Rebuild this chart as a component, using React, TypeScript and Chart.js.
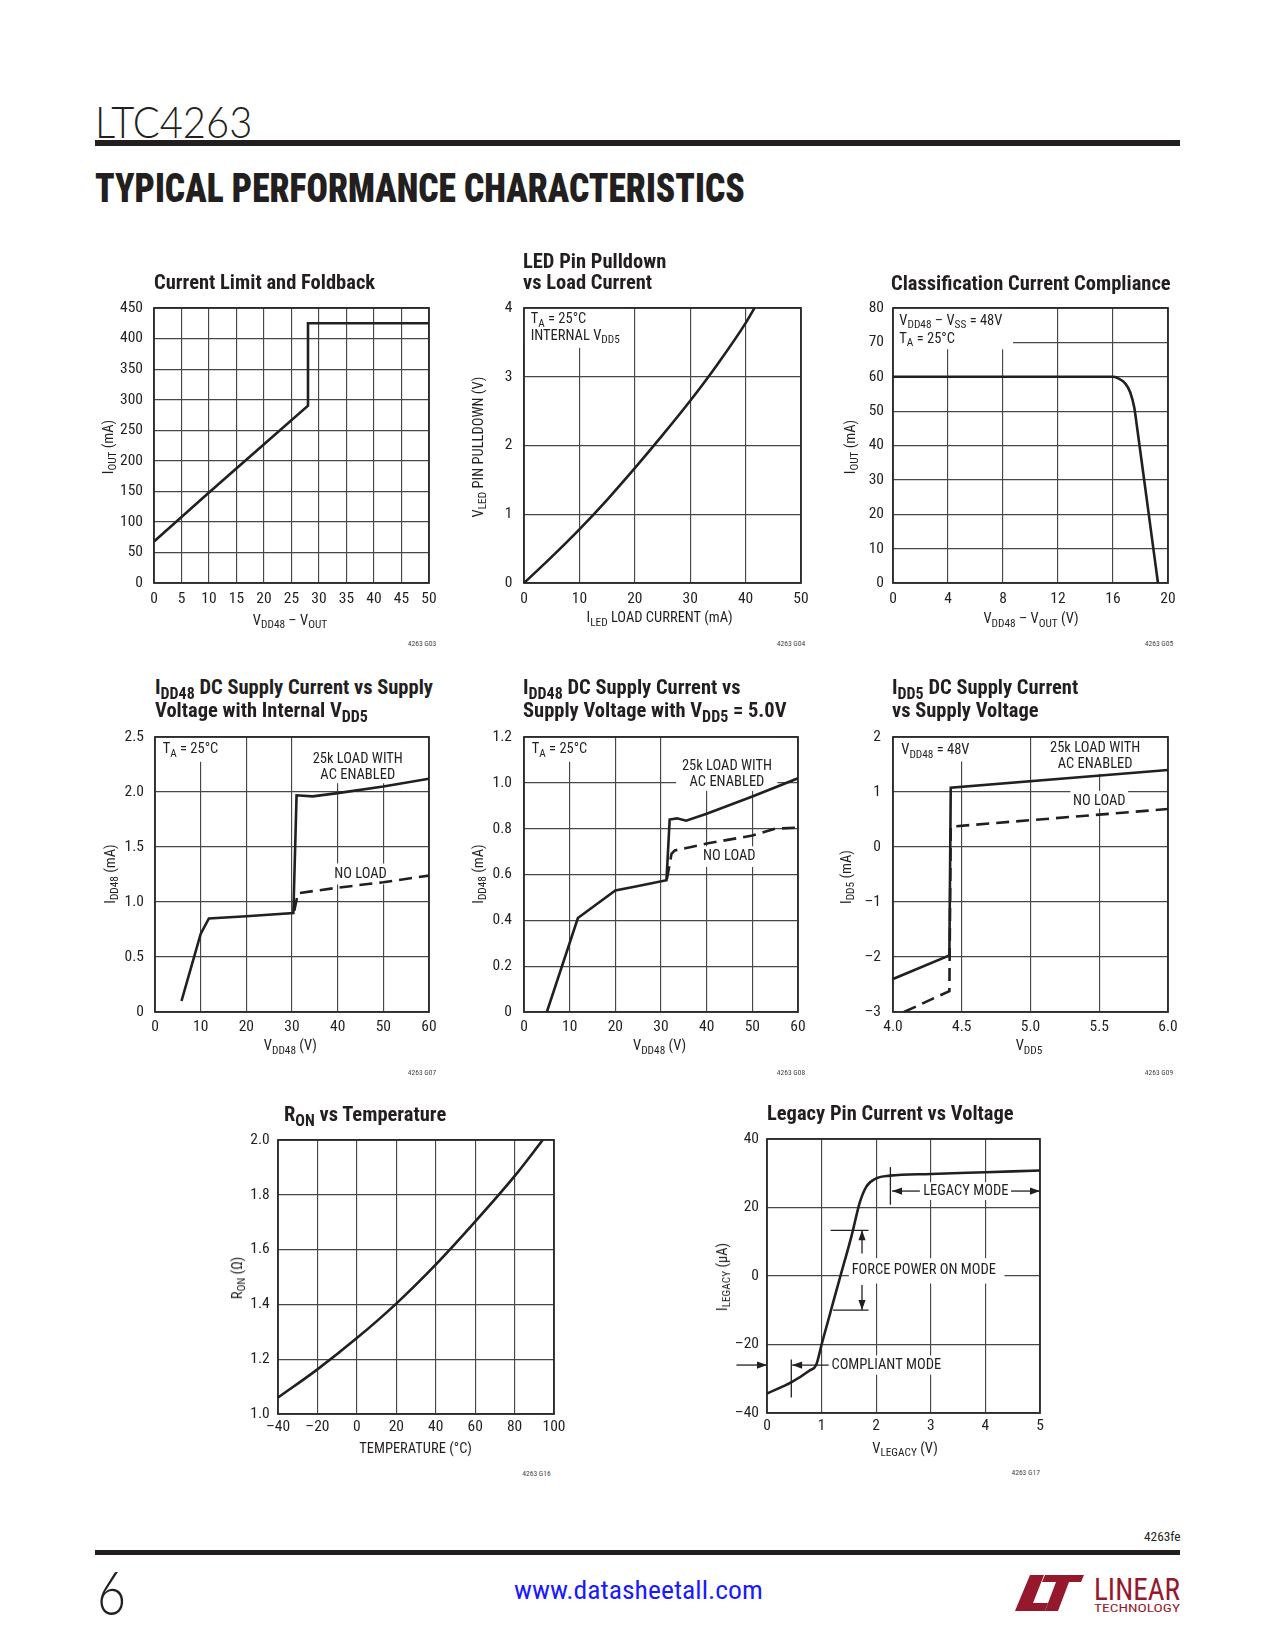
import React, { useEffect, useLayoutEffect, useRef, useState } from 'react';
import { Chart, registerables } from 'chart.js';

Chart.register(...registerables);

const FONT = "'Liberation Sans Narrow', 'Arial Narrow', 'Roboto Condensed', 'DejaVu Sans Condensed', 'Liberation Sans', sans-serif";
const LIGHT = "'Lato', 'Open Sans', 'Noto Sans', sans-serif";
const INK = '#231f20';
const RED = '#96182c';
Chart.defaults.font.family = FONT;

// ---------------- data ----------------
// Current Limit and Foldback
const limitX = [0, 10, 20, 28, 28, 50];
const limitY = [68, 148, 227, 290, 425, 425];
const limitXTicks = [0, 5, 10, 15, 20, 25, 30, 35, 40, 45, 50];
const limitYTicks = [0, 50, 100, 150, 200, 250, 300, 350, 400, 450];

// LED Pin Pulldown vs Load Current
const ledX = [0, 5, 10, 15, 20, 25, 30, 35, 40, 41.6];
const ledY = [0, 0.38, 0.78, 1.21, 1.67, 2.15, 2.65, 3.19, 3.78, 4.0];
const ledXTicks = [0, 10, 20, 30, 40, 50];
const ledYTicks = [0, 1, 2, 3, 4];

// Classification Current Compliance
const classX = [0, 16, 16.3, 16.9, 17.25, 17.55, 17.75, 18.5, 19.27];
const classY = [60, 60, 59.7, 58, 55.5, 51, 45.3, 23.0, 0];
const classXTicks = [0, 4, 8, 12, 16, 20];
const classYTicks = [0, 10, 20, 30, 40, 50, 60, 70, 80];

// IDD48 vs supply, internal VDD5
const intLoadX = [5.8, 8, 10, 11.8, 20, 30.3, 31, 34.5, 40, 50, 60];
const intLoadY = [0.1, 0.42, 0.71, 0.85, 0.87, 0.9, 1.97, 1.96, 1.99, 2.05, 2.12];
const intNoLoadX = [30.5, 31.3, 40, 50, 60];
const intNoLoadY = [0.92, 1.08, 1.13, 1.18, 1.24];
const intXTicks = [0, 10, 20, 30, 40, 50, 60];
const intYTicks = [0, 0.5, 1.0, 1.5, 2.0, 2.5];
const intYLabels = ['0', '0.5', '1.0', '1.5', '2.0', '2.5'];

// IDD48 vs supply, VDD5 = 5.0V
const extLoadX = [5, 11.8, 20, 25, 31.2, 31.9, 33.5, 35.5, 40, 50, 60];
const extLoadY = [0, 0.41, 0.53, 0.55, 0.575, 0.84, 0.845, 0.835, 0.865, 0.94, 1.02];
const extNoLoadX = [31.3, 32.3, 33, 40, 50, 55, 60];
const extNoLoadY = [0.58, 0.69, 0.705, 0.735, 0.77, 0.8, 0.805];
const extXTicks = [0, 10, 20, 30, 40, 50, 60];
const extYTicks = [0, 0.2, 0.4, 0.6, 0.8, 1.0, 1.2];
const extYLabels = ['0', '0.2', '0.4', '0.6', '0.8', '1.0', '1.2'];

// IDD5 vs supply voltage
const idd5LoadX = [4.0, 4.41, 4.42, 6.0];
const idd5LoadY = [-2.4, -1.97, 1.08, 1.4];
const idd5NoLoadX = [4.08, 4.41, 4.42, 6.0];
const idd5NoLoadY = [-3.0, -2.62, 0.37, 0.69];
const idd5XTicks = [4.0, 4.5, 5.0, 5.5, 6.0];
const idd5XLabels = ['4.0', '4.5', '5.0', '5.5', '6.0'];
const idd5YTicks = [-3, -2, -1, 0, 1, 2];
const idd5YLabels = ['–3', '–2', '–1', '0', '1', '2'];

// RON vs temperature
const ronX = [-40, -20, 0, 20, 40, 60, 80, 94.3];
const ronY = [1.06, 1.163, 1.277, 1.403, 1.545, 1.702, 1.868, 2.0];
const ronXTicks = [-40, -20, 0, 20, 40, 60, 80, 100];
const ronXLabels = ['–40', '–20', '0', '20', '40', '60', '80', '100'];
const ronYTicks = [1.0, 1.2, 1.4, 1.6, 1.8, 2.0];
const ronYLabels = ['1.0', '1.2', '1.4', '1.6', '1.8', '2.0'];

// Legacy pin current vs voltage
const legacyX = [0, 0.45, 0.78, 0.9, 1.0, 1.345, 1.55, 1.7, 1.82, 2.0, 2.25, 3, 4, 5];
const legacyY = [-34.3, -31, -27.6, -26, -20, 0, 11.8, 21.5, 26.1, 28.5, 29.3, 29.8, 30.3, 30.8];
const legacyXTicks = [0, 1, 2, 3, 4, 5];
const legacyYTicks = [-40, -20, 0, 20, 40];
const legacyYLabels = ['–40', '–20', '0', '20', '40'];

const str = (a: number[]) => a.map((v) => String(v));

// ---------------- chart machinery ----------------
type Seg = [string, number?];
type Note =
  | { kind: 'box'; x0: number; x1: number; y0: number; y1: number }
  | { kind: 'text'; x: number; y: number; segs: Seg[]; align?: 'left' | 'center' }
  | { kind: 'line'; x0: number; y0: number; x1: number; y1: number }
  | { kind: 'arrow'; x0: number; y0: number; x1: number; y1: number };

interface Series { xs: number[]; ys: number[]; dashed?: boolean; smooth?: boolean }
interface Axis { ticks: number[]; labels: string[]; pad: number }
interface Spec { l: number; t: number; w: number; h: number; x: Axis; y: Axis; series: Series[]; notes?: Note[] }

const PAD_L = 72, PAD_T = 26, PAD_R = 26, PAD_B = 36;
const NOTE_FS = 14.5;
const TICK_FS = 15.5;

function drawRich(ctx: CanvasRenderingContext2D, segs: Seg[], x: number, y: number, align: string) {
  const main = `${NOTE_FS}px ${FONT}`;
  const sub = `${NOTE_FS * 0.78}px ${FONT}`;
  let w = 0;
  for (const [t, s] of segs) { ctx.font = s ? sub : main; w += ctx.measureText(t).width; }
  let cx = align === 'center' ? x - w / 2 : x;
  ctx.textBaseline = 'middle';
  ctx.textAlign = 'left';
  ctx.fillStyle = INK;
  for (const [t, s] of segs) {
    ctx.font = s ? sub : main;
    ctx.fillText(t, cx, s ? y + NOTE_FS * 0.3 : y);
    cx += ctx.measureText(t).width;
  }
}

function makeNotes(notes: Note[]) {
  return {
    id: 'notes',
    beforeDatasetsDraw(chart: any) {
      const { ctx, chartArea: a, scales } = chart;
      const sx = scales.x, sy = scales.y;
      ctx.save();
      ctx.fillStyle = '#ffffff';
      for (const n of notes) {
        if (n.kind !== 'box') continue;
        const px0 = sx.getPixelForValue(n.x0), px1 = sx.getPixelForValue(n.x1);
        const py0 = sy.getPixelForValue(n.y0), py1 = sy.getPixelForValue(n.y1);
        ctx.fillRect(Math.min(px0, px1), Math.min(py0, py1), Math.abs(px1 - px0), Math.abs(py1 - py0));
      }
      ctx.strokeStyle = '#2b2b2b';
      ctx.lineWidth = 1.8;
      ctx.strokeRect(a.left, a.top, a.right - a.left, a.bottom - a.top);
      ctx.restore();
    },
    afterDatasetsDraw(chart: any) {
      const { ctx, scales } = chart;
      const sx = scales.x, sy = scales.y;
      ctx.save();
      for (const n of notes) {
        if (n.kind === 'text') {
          drawRich(ctx, n.segs, sx.getPixelForValue(n.x), sy.getPixelForValue(n.y), n.align || 'left');
        } else if (n.kind === 'line' || n.kind === 'arrow') {
          const x0 = sx.getPixelForValue(n.x0), y0 = sy.getPixelForValue(n.y0);
          const x1 = sx.getPixelForValue(n.x1), y1 = sy.getPixelForValue(n.y1);
          ctx.strokeStyle = INK;
          ctx.fillStyle = INK;
          ctx.lineWidth = 1.3;
          ctx.beginPath();
          ctx.moveTo(x0, y0);
          ctx.lineTo(x1, y1);
          ctx.stroke();
          if (n.kind === 'arrow') {
            const ang = Math.atan2(y1 - y0, x1 - x0);
            const L = 10, Hw = 3.6;
            const bx = x1 - L * Math.cos(ang), by = y1 - L * Math.sin(ang);
            ctx.beginPath();
            ctx.moveTo(x1, y1);
            ctx.lineTo(bx - Hw * Math.sin(ang), by + Hw * Math.cos(ang));
            ctx.lineTo(bx + Hw * Math.sin(ang), by - Hw * Math.cos(ang));
            ctx.closePath();
            ctx.fill();
          }
        }
      }
      ctx.restore();
    },
  };
}

function axisOpts(ax: Axis, dir: 'x' | 'y') {
  return {
    type: 'linear',
    position: dir === 'x' ? 'bottom' : 'left',
    min: ax.ticks[0],
    max: ax.ticks[ax.ticks.length - 1],
    afterBuildTicks: (s: any) => { s.ticks = ax.ticks.map((value) => ({ value })); },
    afterFit: (s: any) => { if (dir === 'x') s.height = PAD_B; else s.width = PAD_L; },
    grid: { color: '#474747', lineWidth: 1.15, drawTicks: false },
    border: { display: false },
    ticks: {
      autoSkip: false,
      maxRotation: 0,
      padding: ax.pad,
      color: INK,
      font: { family: FONT, size: TICK_FS },
      callback: (_v: any, i: number) => ax.labels[i],
    },
  };
}

function PerfChart({ spec }: { spec: Spec }) {
  const ref = useRef<HTMLCanvasElement>(null);
  const W = spec.w + PAD_L + PAD_R;
  const H = spec.h + PAD_T + PAD_B;
  useEffect(() => {
    const chart = new Chart(ref.current as HTMLCanvasElement, {
      type: 'line',
      data: {
        datasets: spec.series.map((s) => ({
          data: s.xs.map((x, i) => ({ x, y: s.ys[i] })),
          borderColor: INK,
          borderWidth: 2.6,
          borderDash: s.dashed ? [13, 7] : [],
          pointRadius: 0,
          fill: false,
          tension: 0,
          cubicInterpolationMode: s.smooth ? 'monotone' : 'default',
        })),
      },
      options: {
        animation: false,
        responsive: false,
        events: [],
        layout: { padding: { left: 0, top: PAD_T, right: PAD_R, bottom: 0 } },
        plugins: { legend: { display: false }, tooltip: { enabled: false }, title: { display: false } },
        scales: { x: axisOpts(spec.x, 'x'), y: axisOpts(spec.y, 'y') },
      } as any,
      plugins: [makeNotes(spec.notes || []) as any],
    } as any);
    return () => chart.destroy();
  }, []);
  return (
    <canvas
      ref={ref}
      width={W}
      height={H}
      style={{ position: 'absolute', left: spec.l - PAD_L, top: spec.t - PAD_T, width: W, height: H }}
    />
  );
}

// ---------------- chart specs ----------------
const TA: Seg[] = [['T'], ['A', 1], [' = 25°C']];

const specs: Spec[] = [
  {
    l: 154, t: 308, w: 275, h: 275,
    x: { ticks: limitXTicks, labels: str(limitXTicks), pad: 6.7 },
    y: { ticks: limitYTicks, labels: str(limitYTicks), pad: 11 },
    series: [{ xs: limitX, ys: limitY }],
  },
  {
    l: 524, t: 308, w: 277, h: 275,
    x: { ticks: ledXTicks, labels: str(ledXTicks), pad: 6.7 },
    y: { ticks: ledYTicks, labels: str(ledYTicks), pad: 11.5 },
    series: [{ xs: ledX, ys: ledY, smooth: true }],
    notes: [
      { kind: 'box', x0: 0, x1: 18.2, y0: 3.42, y1: 4 },
      { kind: 'text', x: 1.2, y: 3.83, segs: TA },
      { kind: 'text', x: 1.2, y: 3.59, segs: [['INTERNAL V'], ['DD5', 1]] },
    ],
  },
  {
    l: 893, t: 308, w: 275, h: 275,
    x: { ticks: classXTicks, labels: str(classXTicks), pad: 6.7 },
    y: { ticks: classYTicks, labels: str(classYTicks), pad: 9 },
    series: [{ xs: classX, ys: classY, smooth: true }],
    notes: [
      { kind: 'box', x0: 0, x1: 8.73, y0: 68, y1: 80 },
      { kind: 'text', x: 0.46, y: 76.2, segs: [['V'], ['DD48', 1], [' – V'], ['SS', 1], [' = 48V']] },
      { kind: 'text', x: 0.46, y: 70.9, segs: TA },
    ],
  },
  {
    l: 155, t: 737, w: 274, h: 275,
    x: { ticks: intXTicks, labels: str(intXTicks), pad: 6 },
    y: { ticks: intYTicks, labels: intYLabels, pad: 11 },
    series: [{ xs: intLoadX, ys: intLoadY }, { xs: intNoLoadX, ys: intNoLoadY, dashed: true }],
    notes: [
      { kind: 'box', x0: 0, x1: 14.65, y0: 2.275, y1: 2.5 },
      { kind: 'text', x: 1.68, y: 2.384, segs: TA },
      { kind: 'box', x0: 34, x1: 54.8, y0: 2.08, y1: 2.5 },
      { kind: 'text', x: 44.4, y: 2.3, segs: [['25k LOAD WITH']], align: 'center' },
      { kind: 'text', x: 44.4, y: 2.147, segs: [['AC ENABLED']], align: 'center' },
      { kind: 'box', x0: 38.6, x1: 51.4, y0: 1.16, y1: 1.35 },
      { kind: 'text', x: 45, y: 1.255, segs: [['NO LOAD']], align: 'center' },
    ],
  },
  {
    l: 524, t: 737, w: 274, h: 275,
    x: { ticks: extXTicks, labels: str(extXTicks), pad: 6 },
    y: { ticks: extYTicks, labels: extYLabels, pad: 12 },
    series: [{ xs: extLoadX, ys: extLoadY }, { xs: extNoLoadX, ys: extNoLoadY, dashed: true }],
    notes: [
      { kind: 'box', x0: 0, x1: 14.5, y0: 1.092, y1: 1.2 },
      { kind: 'text', x: 1.69, y: 1.144, segs: TA },
      { kind: 'box', x0: 33.3, x1: 55.5, y0: 0.965, y1: 1.2 },
      { kind: 'text', x: 44.45, y: 1.071, segs: [['25k LOAD WITH']], align: 'center' },
      { kind: 'text', x: 44.45, y: 1.0, segs: [['AC ENABLED']], align: 'center' },
      { kind: 'box', x0: 39, x1: 51, y0: 0.633, y1: 0.723 },
      { kind: 'text', x: 44.95, y: 0.678, segs: [['NO LOAD']], align: 'center' },
    ],
  },
  {
    l: 893, t: 737, w: 275, h: 275,
    x: { ticks: idd5XTicks, labels: idd5XLabels, pad: 6 },
    y: { ticks: idd5YTicks, labels: idd5YLabels, pad: 12 },
    series: [{ xs: idd5LoadX, ys: idd5LoadY }, { xs: idd5NoLoadX, ys: idd5NoLoadY, dashed: true }],
    notes: [
      { kind: 'box', x0: 4, x1: 4.6, y0: 1.556, y1: 2 },
      { kind: 'text', x: 4.06, y: 1.75, segs: [['V'], ['DD48', 1], [' = 48V']] },
      { kind: 'box', x0: 5.12, x1: 5.82, y0: 1.33, y1: 2 },
      { kind: 'text', x: 5.47, y: 1.8, segs: [['25k LOAD WITH']], align: 'center' },
      { kind: 'text', x: 5.47, y: 1.495, segs: [['AC ENABLED']], align: 'center' },
      { kind: 'box', x0: 5.29, x1: 5.71, y0: 0.7, y1: 1.02 },
      { kind: 'text', x: 5.5, y: 0.826, segs: [['NO LOAD']], align: 'center' },
    ],
  },
  {
    l: 278, t: 1140, w: 276, h: 274,
    x: { ticks: ronXTicks, labels: ronXLabels, pad: 3.8 },
    y: { ticks: ronYTicks, labels: ronYLabels, pad: 8.3 },
    series: [{ xs: ronX, ys: ronY, smooth: true }],
  },
  {
    l: 767, t: 1139, w: 273, h: 274,
    x: { ticks: legacyXTicks, labels: str(legacyXTicks), pad: 3.8 },
    y: { ticks: legacyYTicks, labels: legacyYLabels, pad: 8 },
    series: [{ xs: legacyX, ys: legacyY, smooth: true }],
    notes: [
      { kind: 'box', x0: 1.5, x1: 4.35, y0: -2.2, y1: 5.2 },
      { kind: 'text', x: 1.55, y: 1.55, segs: [['FORCE POWER ON MODE']] },
      { kind: 'line', x0: 1.165, y0: 13.35, x1: 1.86, y1: 13.35 },
      { kind: 'line', x0: 1.21, y0: -9.94, x1: 1.86, y1: -9.94 },
      { kind: 'arrow', x0: 1.74, y0: 6.6, x1: 1.74, y1: 13.35 },
      { kind: 'arrow', x0: 1.74, y0: -2.6, x1: 1.74, y1: -9.94 },
      { kind: 'line', x0: 2.26, y0: 20.8, x1: 2.26, y1: 31.8 },
      { kind: 'box', x0: 2.8, x1: 4.46, y0: 22.2, y1: 27.4 },
      { kind: 'arrow', x0: 2.8, y0: 24.8, x1: 2.29, y1: 24.8 },
      { kind: 'text', x: 2.86, y: 24.8, segs: [['LEGACY MODE']] },
      { kind: 'arrow', x0: 4.47, y0: 24.8, x1: 5.0, y1: 24.8 },
      { kind: 'line', x0: 0.445, y0: -24.4, x1: 0.445, y1: -35.5 },
      { kind: 'box', x0: 1.15, x1: 3.27, y0: -28.8, y1: -23.2 },
      { kind: 'arrow', x0: 1.13, y0: -26, x1: 0.46, y1: -26 },
      { kind: 'arrow', x0: -0.56, y0: -26, x1: 0, y1: -26 },
      { kind: 'text', x: 1.18, y: -26, segs: [['COMPLIANT MODE']] },
    ],
  },
];

// ---------------- HTML text helpers ----------------
const Sub = ({ children }: { children: React.ReactNode }) => (
  <span style={{ fontSize: '0.78em', position: 'relative', top: '0.3em' }}>{children}</span>
);

function Fit({ x, cy, w, fs, weight = 400, family = FONT, color = INK, children }: any) {
  const ref = useRef<HTMLDivElement>(null);
  const [k, setK] = useState(1);
  useLayoutEffect(() => {
    const el = ref.current;
    if (!el) return;
    const nw = el.offsetWidth;
    if (nw > 0) setK(w / nw);
  }, []);
  return (
    <div
      ref={ref}
      style={{
        position: 'absolute', left: x, top: cy - 0.49 * fs, fontSize: fs, lineHeight: `${fs}px`,
        fontWeight: weight, fontFamily: family, color, whiteSpace: 'nowrap',
        transform: `scaleX(${k})`, transformOrigin: '0 0',
      }}
    >
      {children}
    </div>
  );
}

function Txt({ x, cy, fs, bold, center, right, children, color = INK }: any) {
  return (
    <div
      style={{
        position: 'absolute', left: x, top: cy - 0.49 * fs, fontSize: fs, lineHeight: `${fs}px`,
        fontWeight: bold ? 700 : 400, whiteSpace: 'nowrap', color,
        transform: center ? 'translateX(-50%)' : right ? 'translateX(-100%)' : undefined,
      }}
    >
      {children}
    </div>
  );
}

function YLab({ cx, cy, children }: any) {
  return (
    <div
      style={{
        position: 'absolute', left: cx, top: cy, fontSize: 14.5, lineHeight: '15px', whiteSpace: 'nowrap',
        transform: 'translate(-50%, -50%) rotate(-90deg)',
      }}
    >
      {children}
    </div>
  );
}

const TITLE = 20.5;
const AX = 14.5;
const CODE = 7.5;

export default function App() {
  return (
    <div
      style={{
        position: 'absolute', left: 0, top: 0, width: 1275, height: 1650, background: '#ffffff',
        fontFamily: FONT, color: INK, overflow: 'hidden',
      }}
    >
      {/* header */}
      <Fit x={95} cy={121} w={157} fs={44} weight={300} family={LIGHT}>LTC4263</Fit>
      <div style={{ position: 'absolute', left: 95, top: 140, width: 1085, height: 6, background: INK }} />
      <Fit x={95} cy={188.5} w={650} fs={40} weight={900}>TYPICAL PERFORMANCE CHARACTERISTICS</Fit>

      {specs.map((s, i) => <PerfChart key={i} spec={s} />)}

      {/* titles */}
      <Txt x={154} cy={282.5} fs={TITLE} bold>Current Limit and Foldback</Txt>
      <Txt x={523} cy={261} fs={TITLE} bold>LED Pin Pulldown</Txt>
      <Txt x={523} cy={282.5} fs={TITLE} bold>vs Load Current</Txt>
      <Txt x={891} cy={283} fs={TITLE} bold>Classification Current Compliance</Txt>
      <Txt x={155} cy={687.5} fs={TITLE} bold>I<Sub>DD48</Sub> DC Supply Current vs Supply</Txt>
      <Txt x={155} cy={710.5} fs={TITLE} bold>Voltage with Internal V<Sub>DD5</Sub></Txt>
      <Txt x={523} cy={687.5} fs={TITLE} bold>I<Sub>DD48</Sub> DC Supply Current vs</Txt>
      <Txt x={523} cy={710.5} fs={TITLE} bold>Supply Voltage with V<Sub>DD5</Sub> = 5.0V</Txt>
      <Txt x={892} cy={687.5} fs={TITLE} bold>I<Sub>DD5</Sub> DC Supply Current</Txt>
      <Txt x={892} cy={710.5} fs={TITLE} bold>vs Supply Voltage</Txt>
      <Txt x={284} cy={1114} fs={TITLE} bold>R<Sub>ON</Sub> vs Temperature</Txt>
      <Txt x={767} cy={1113.5} fs={TITLE} bold>Legacy Pin Current vs Voltage</Txt>

      {/* y axis labels */}
      <YLab cx={108.5} cy={447}>I<Sub>OUT</Sub> (mA)</YLab>
      <YLab cx={478.7} cy={447}>V<Sub>LED</Sub> PIN PULLDOWN (V)</YLab>
      <YLab cx={851} cy={447}>I<Sub>OUT</Sub> (mA)</YLab>
      <YLab cx={111} cy={874}>I<Sub>DD48</Sub> (mA)</YLab>
      <YLab cx={478.5} cy={874}>I<Sub>DD48</Sub> (mA)</YLab>
      <YLab cx={847} cy={877}>I<Sub>DD5</Sub> (mA)</YLab>
      <YLab cx={238} cy={1278}>R<Sub>ON</Sub> (Ω)</YLab>
      <YLab cx={723} cy={1277}>I<Sub>LEGACY</Sub> (μA)</YLab>

      {/* x axis labels */}
      <Txt x={290} cy={620.7} fs={AX} center>V<Sub>DD48</Sub> – V<Sub>OUT</Sub></Txt>
      <Txt x={659.6} cy={618.6} fs={AX} center>I<Sub>LED</Sub> LOAD CURRENT (mA)</Txt>
      <Txt x={1031} cy={619.6} fs={AX} center>V<Sub>DD48</Sub> – V<Sub>OUT</Sub> (V)</Txt>
      <Txt x={290.4} cy={1046.5} fs={AX} center>V<Sub>DD48</Sub> (V)</Txt>
      <Txt x={659.6} cy={1046.5} fs={AX} center>V<Sub>DD48</Sub> (V)</Txt>
      <Txt x={1029} cy={1046.5} fs={AX} center>V<Sub>DD5</Sub></Txt>
      <Txt x={415.5} cy={1449.6} fs={AX} center>TEMPERATURE (°C)</Txt>
      <Txt x={905} cy={1449} fs={AX} center>V<Sub>LEGACY</Sub> (V)</Txt>

      {/* figure codes */}
      <Txt x={422} cy={644} fs={CODE} center color="#444">4263 G03</Txt>
      <Txt x={791} cy={644} fs={CODE} center color="#444">4263 G04</Txt>
      <Txt x={1159} cy={644} fs={CODE} center color="#444">4263 G05</Txt>
      <Txt x={422} cy={1073} fs={CODE} center color="#444">4263 G07</Txt>
      <Txt x={791} cy={1073} fs={CODE} center color="#444">4263 G08</Txt>
      <Txt x={1159} cy={1073} fs={CODE} center color="#444">4263 G09</Txt>
      <Txt x={536.5} cy={1474} fs={CODE} center color="#444">4263 G16</Txt>
      <Txt x={1025.7} cy={1473} fs={CODE} center color="#444">4263 G17</Txt>

      {/* footer */}
      <Fit x={1143.5} cy={1537} w={36.5} fs={13.5}>4263fe</Fit>
      <div style={{ position: 'absolute', left: 95, top: 1549.5, width: 1085, height: 5.5, background: INK }} />
      <Fit x={97} cy={1590} w={29} fs={62} weight={300} family={LIGHT}>6</Fit>
      <Fit x={514} cy={1590} w={249} fs={26} color="#1a1aff">www.datasheetall.com</Fit>
      <svg style={{ position: 'absolute', left: 1014, top: 1572 }} width={168} height={42} viewBox="0 0 168 42">
        <path d="M16 3 L30 3 L19 31 L34 31 L31 39 L1 39 Z" fill={RED} />
        <path d="M31 3 L70 3 L67 10 L55 10 L44 39 L31 39 L42 10 L28 10 Z" fill={RED} />
        <text x={80} y={28} fill={RED} fontFamily={FONT} fontSize={31} textLength={86} lengthAdjust="spacingAndGlyphs">LINEAR</text>
        <text x={80} y={40} fill={RED} fontFamily={FONT} fontSize={11} textLength={86} lengthAdjust="spacingAndGlyphs">TECHNOLOGY</text>
      </svg>
    </div>
  );
}
